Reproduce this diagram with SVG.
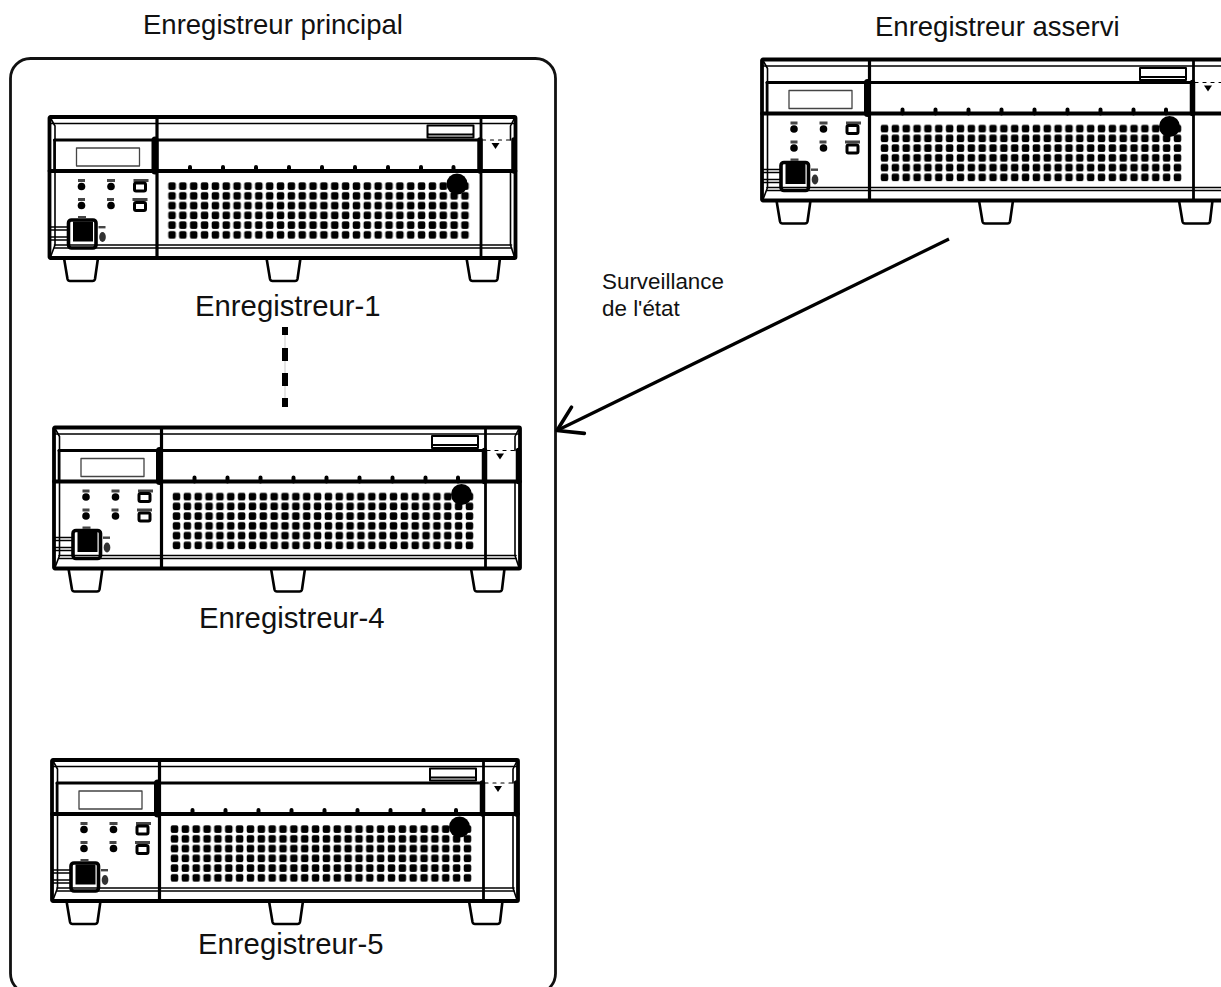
<svg xmlns="http://www.w3.org/2000/svg" width="1221" height="987" viewBox="0 0 1221 987">
<style>
text{font-family:"Liberation Sans",Arial,sans-serif;fill:#111}
.t{font-size:27.5px}.l{font-size:29.3px}.s{font-size:22.4px}
.o{fill:none;stroke:#000;stroke-linejoin:round;stroke-linecap:round}
.a{stroke-width:3.8}.b{stroke-width:2.6}.c{stroke-width:1.6}.d{stroke-width:1.300;stroke:#444}
.m{fill:#444}
</style>
<defs>
<filter id="soft" x="-2%" y="-2%" width="104%" height="104%"><feGaussianBlur stdDeviation="0.5"/></filter>
<pattern id="holes" patternUnits="userSpaceOnUse" x="117.075" y="64.125" width="10.85" height="9.75"><rect x="1.7" y="1.2" width="7.500" height="7.500" rx="1.800" fill="#000"/></pattern>
<marker id="open" viewBox="-26 -17 29 34" markerUnits="userSpaceOnUse" markerWidth="29" markerHeight="34" refX="0" refY="0" orient="auto"><path d="M-23.3-14.6 0 0-23.3 14.6" fill="none" stroke="#000" stroke-width="3.6" stroke-linecap="round" stroke-linejoin="round"/></marker>
<g id="recorder" filter="url(#soft)">
<path class="o b" d="M14.5 141 18 162Q18.500 164 20.500 164H43Q45 164 45.500 162L48.500 141M217 141 220.500 162Q221 164 223 164H245.500Q247.500 164 248 162L251 141M417 141 420.500 162Q421 164 423 164H445.500Q447.500 164 448 162L450.500 141"/>
<rect class="o a" width="466" height="141" x="0" y="0" rx="1" fill="#fff"/>
<path class="o c" d="M0 6.500H466M5 128H462M5 131H462"/>
<path class="o c" d="M1 1 5.500 9V128L1 140M465 1 461 9V23M461 54V128L465 140"/>
<path class="o" stroke-width="3" d="M5 23H431"/>
<path class="o" stroke-width="1.200" stroke-dasharray="3 5" stroke="#888" d="M433 23H464"/>
<path d="M442 26H450L446 32Z" fill="#000"/>
<path class="o" stroke-width="3.800" d="M0 54H466"/>
<path class="o" stroke-width="2.600" d="M5 23V54"/>
<path class="o" stroke-width="3.200" d="M107.500 0V141"/>
<path class="o" stroke-width="7" d="M105.500 23V54"/>
<path class="o" stroke-width="2.800" d="M431.500 0V141"/>
<path class="o" stroke-width="5.500" d="M430.500 23V54M464.500 23V54"/>
<rect class="o d" x="27" y="31" width="63" height="18"/>
<path class="o" stroke-width="2" d="M378 8.500H424M378 8.500V20.500H424V8.500M379 17.500H423"/>
<g id="bumps"><path class="o" stroke-width="4" d="M140.500 50V54M173.500 50V54M206.500 50V54M239.500 50V54M272.500 50V54M305.500 50V54M338.500 50V54M371.500 50V54M404 50V54"/></g>
<rect x="117.075" y="64.125" width="303.800" height="58.500" fill="url(#holes)"/>
<circle cx="407.500" cy="67" r="10.500" fill="#000"/>
<rect class="m" x="28.500" y="62" width="7" height="3"/><rect class="m" x="57.500" y="62" width="8" height="3"/><rect class="m" x="84" y="62" width="15" height="3"/>
<rect class="m" x="28.500" y="81" width="7" height="3"/><rect class="m" x="57.500" y="81" width="7" height="3"/><rect class="m" x="83" y="81" width="15" height="3"/>
<circle cx="32" cy="69.500" r="3.800"/><circle cx="61.500" cy="69.500" r="3.800"/><circle cx="32" cy="88.500" r="3.800"/><circle cx="61.500" cy="88.500" r="3.800"/>
<rect class="o" stroke-width="3" x="85" y="66" width="11" height="8" rx="1.500"/><rect class="o" stroke-width="3" x="85" y="85.500" width="11" height="8" rx="1.500"/>
<path class="o" stroke="#333" stroke-width="1.500" d="M0 110H19M0 113H19M0 120H19M0 123H19"/>
<rect class="o" stroke-width="3.600" x="19" y="103" width="27.500" height="28" rx="3" fill="#fff"/>
<rect x="23.500" y="104.500" width="20" height="20"/>
<rect class="m" x="28.500" y="99" width="8" height="2.400"/><rect class="m" x="49" y="109" width="7" height="2.400"/>
<ellipse cx="53" cy="120" rx="3.300" ry="5" fill="#333"/>
</g>
</defs>
<rect width="1221" height="987" fill="#fff"/>
<text class="t" x="143" y="34">Enregistreur principal</text>
<text class="t" x="875" y="36">Enregistreur asservi</text>
<g id="frame-principal"><rect x="10.500" y="58.500" width="545" height="935" rx="20" fill="none" stroke="#111" stroke-width="2.800"/></g>
<g id="connectors">
<line x1="285" y1="327" x2="285" y2="407" stroke="#e4e4e4" stroke-width="2"/>
<line x1="285" y1="327" x2="285" y2="407" stroke="#000" stroke-width="6" stroke-dasharray="8 13 13 12 13 12 9"/>
<line x1="949" y1="239" x2="557" y2="430.500" stroke="#000" stroke-width="3.200" marker-end="url(#open)"/>
</g>
<g id="enregistreur-1"><use href="#recorder" x="49.500" y="117"/><text class="l" x="195" y="316">Enregistreur-1</text></g>
<g id="enregistreur-4"><use href="#recorder" x="54" y="427.500"/><text class="l" x="199" y="628">Enregistreur-4</text></g>
<g id="enregistreur-5"><use href="#recorder" x="52" y="760"/><text class="l" x="198" y="954">Enregistreur-5</text></g>
<g id="enregistreur-asservi"><use href="#recorder" x="762" y="59.500"/></g>
<text class="s" x="602" y="289">Surveillance</text>
<text class="s" x="602" y="316">de l'état</text>
</svg>
